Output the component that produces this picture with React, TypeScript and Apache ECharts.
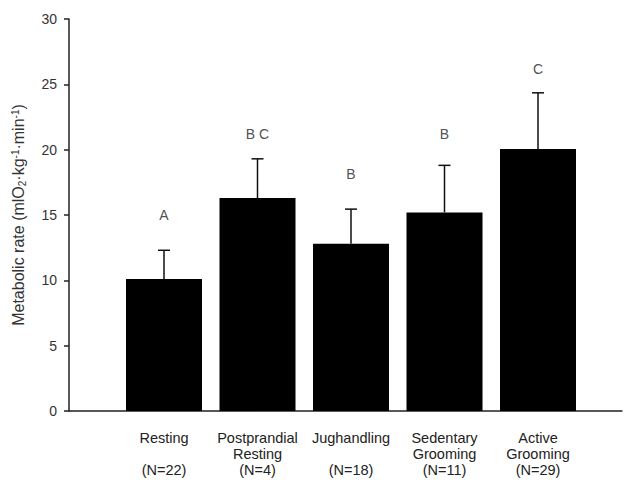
import React, { useEffect, useRef } from "react";
import * as echarts from "echarts";

const categories = [
  "Resting\n \n(N=22)",
  "Postprandial\nResting\n(N=4)",
  "Jughandling\n \n(N=18)",
  "Sedentary\nGrooming\n(N=11)",
  "Active\nGrooming\n(N=29)",
];
const means = [10.1, 16.3, 12.8, 15.2, 20.05];
const errors = [2.2, 3.0, 2.65, 3.6, 4.3];
const letters = ["A", "B C", "B", "B", "C"];
const letterLevels = [15.0, 21.2, 18.1, 21.2, 26.2];
const yTicks = [0, 5, 10, 15, 20, 25, 30];

const FONT = "'Liberation Sans', Arial, sans-serif";

export default function App() {
  const ref = useRef<HTMLDivElement>(null);
  useEffect(() => {
    document.body.style.margin = "0";
    if (!ref.current) return;
    const chart = echarts.init(ref.current, null, { renderer: "svg" });
    const yMin = yTicks[0];
    const yMax = yTicks[yTicks.length - 1];
    const option = {
      animation: false,
      backgroundColor: "#fff",
      textStyle: { fontFamily: FONT },
      grid: [
        { left: 117.25, width: 467.5, top: 19, bottom: 72 },
        { left: 69, right: 2, top: 19, bottom: 72 },
      ],
      xAxis: [
        {
          type: "category",
          gridIndex: 0,
          data: categories,
          axisLine: { show: false },
          axisTick: { show: false },
          axisLabel: {
            interval: 0,
            margin: 19,
            fontSize: 14.5,
            lineHeight: 16,
            color: "#222",
            fontFamily: FONT,
            align: "center",
          },
        },
        {
          type: "value",
          gridIndex: 1,
          min: 0,
          max: 1,
          axisLine: { show: true, lineStyle: { color: "#222", width: 1.5 } },
          axisTick: { show: false },
          axisLabel: { show: false },
          splitLine: { show: false },
        },
      ],
      yAxis: [
        {
          type: "value",
          gridIndex: 0,
          min: yMin,
          max: yMax,
          show: false,
        },
        {
          type: "value",
          gridIndex: 1,
          min: yMin,
          max: yMax,
          interval: 5,
          axisLine: { show: true, lineStyle: { color: "#222", width: 1.5 } },
          axisTick: { show: true, length: 5, inside: false, lineStyle: { color: "#222", width: 1.5 } },
          axisLabel: { margin: 12, fontSize: 14, color: "#333", fontFamily: FONT },
          splitLine: { show: false },
          name:
            "{n|Metabolic rate (mlO}{sub|2}{n|·kg}{sup|-1}{n|·min}{sup|-1}{n|)}",
          nameLocation: "middle",
          nameRotate: 90,
          nameGap: 42,
          nameTextStyle: {
            rich: {
              n: { fontSize: 16, color: "#333", fontFamily: FONT },
              sub: { fontSize: 10, color: "#333", fontFamily: FONT, verticalAlign: "bottom", padding: [7, 0, 0, 0] },
              sup: { fontSize: 10, color: "#333", fontFamily: FONT, verticalAlign: "top", padding: [0, 0, 7, 0] },
            },
          },
        },
      ],
      series: [
        {
          type: "bar",
          xAxisIndex: 0,
          yAxisIndex: 0,
          data: means,
          barWidth: 76,
          itemStyle: { color: "#000" },
        },
        {
          type: "custom",
          xAxisIndex: 0,
          yAxisIndex: 0,
          data: means.map((m, i) => [i, m, m + errors[i]]),
          renderItem: (params: any, api: any) => {
            const base = api.coord([api.value(0), api.value(1)]);
            const top = api.coord([api.value(0), api.value(2)]);
            const hw = 6;
            const style = { stroke: "#111", lineWidth: 1.5 };
            return {
              type: "group",
              children: [
                { type: "line", shape: { x1: base[0], y1: base[1], x2: top[0], y2: top[1] }, style },
                { type: "line", shape: { x1: top[0] - hw, y1: top[1], x2: top[0] + hw, y2: top[1] }, style },
              ],
            };
          },
          z: 3,
        },
        {
          type: "scatter",
          xAxisIndex: 0,
          yAxisIndex: 0,
          data: letterLevels.map((v, i) => [i, v]),
          symbolSize: 1,
          itemStyle: { color: "rgba(0,0,0,0)" },
          label: {
            show: true,
            position: "inside",
            formatter: (p: any) => letters[p.dataIndex],
            fontSize: 14,
            color: "#222",
            fontFamily: FONT,
          },
        },
      ],
    };
    chart.setOption(option as any);
    return () => chart.dispose();
  }, []);
  return <div ref={ref} style={{ width: 624, height: 483 }} />;
}
